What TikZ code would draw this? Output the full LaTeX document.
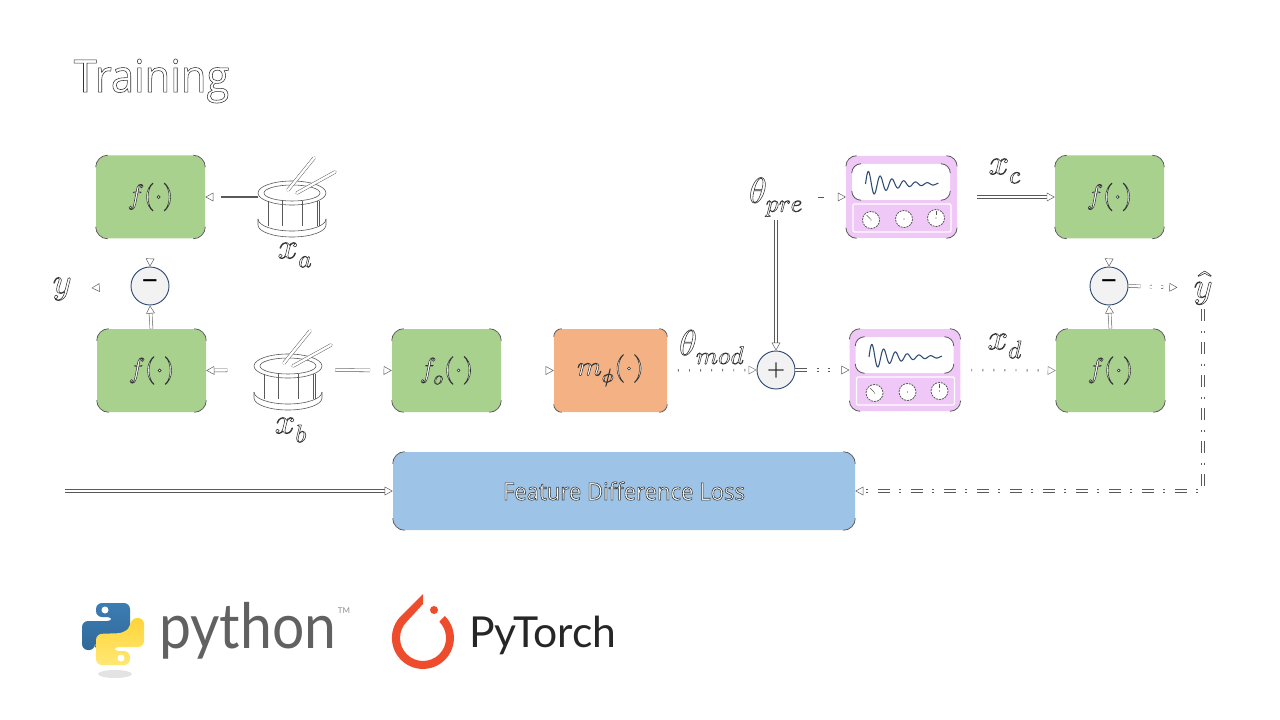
\documentclass[tikz,border=0pt]{standalone}
\usepackage{fontspec}
\usepackage{unicode-math}
\usetikzlibrary{positioning,arrows.meta,calc}
\newfontfamily\uifont[FakeStretch=0.92]{Open Sans}
\newfontfamily\logofont[FakeStretch=0.91]{Lato}
\newfontfamily\torchfont{Lato}
\definecolor{Leaf}{RGB}{169,209,142}
\definecolor{Peach}{RGB}{244,177,131}
\definecolor{Sky}{RGB}{157,195,230}
\definecolor{Lilac}{RGB}{240,200,248}
\definecolor{Navy}{RGB}{47,74,115}
\definecolor{Wire}{RGB}{89,89,89}
\definecolor{Mist}{RGB}{242,242,242}
\definecolor{PyBlue}{RGB}{60,125,180}
\definecolor{PyDark}{RGB}{48,105,152}
\definecolor{PyYellow}{RGB}{255,212,59}
\definecolor{PyLight}{RGB}{255,232,115}
\definecolor{TorchRed}{RGB}{238,76,44}
\newcommand{\hollow}[1]{\special{pdf:code 2 Tr 0.42 w 0.2 G 1 g}#1\special{pdf:code 0 Tr 0 g 0 G 0.4 w}}
\newcommand{\cornerarcs}[2]{%
  \draw[cornerline] ([yshift=-#2]#1.north west) arc[start angle=180,end angle=90,radius=#2];
  \draw[cornerline] ([xshift=-#2]#1.north east) arc[start angle=90,end angle=0,radius=#2];
  \draw[cornerline] ([yshift=#2]#1.south east) arc[start angle=0,end angle=-90,radius=#2];
  \draw[cornerline] ([xshift=#2]#1.south west) arc[start angle=-90,end angle=-180,radius=#2];
}
\tikzset{
  drum/.pic={
    \draw[drumline] (-34,26) -- (-34,32) arc[start angle=180,end angle=0,x radius=34,y radius=12] -- (34,26);
    \draw[drumline] (-34,26) arc[start angle=180,end angle=0,x radius=34,y radius=12];
    \foreach \lx in {-24,-10,10,25,27}
      \draw[drumline] (\lx,8) -- (\lx,33);
    \draw[drumline] (0,0) ellipse [x radius=34,y radius=12];
    \draw[drumline] (0,0) ellipse [x radius=28,y radius=8];
    \draw[stickline] (-4,-3) -- (22,-35);
    \draw[stickline] (5,0) -- (43,-21);
    \coordinate (-west) at (-34,4);
    \coordinate (-east) at (34,4);
  },
  synth/.pic={
    \node[synthbody] (-body) at (0,0) {};
    \node[synthpanel,fill=white] (-top) at (-0.5,-15) {};
    \node[synthpanel,minimum height=21pt,draw=white,line width=0.9pt,rounded corners=1pt] (-low) at (0.5,21) {};
    \draw[Navy,line width=0.8pt] plot[domain=0:1,samples=140,smooth] ({-36+73*\x},{-13-14*exp(-2.8*\x)*sin(2230*\x)});
    \foreach \kx/\ky in {-30.5/23,2.5/22,34.5/21} {
      \draw[knobline] (\kx,\ky) circle [radius=8.5];
      \fill[Wire] (\kx,\ky) circle [radius=0.6];
    }
    \draw[Wire,line width=0.4pt] (-35,18) -- (-31,22);
    \draw[Wire,line width=0.4pt] (34.5,14) -- (34.5,18);
  }
}
\begin{document}
\begin{tikzpicture}[
    x=0.75pt,y=-0.75pt,
    greenbox/.style={rectangle,fill=Leaf,rounded corners=9pt,minimum width=81.75pt,minimum height=62.25pt,inner sep=0pt},
    peachbox/.style={rectangle,fill=Peach,rounded corners=6pt,minimum width=84.75pt,minimum height=62.25pt,inner sep=0pt},
    lossbox/.style={rectangle,fill=Sky,rounded corners=9pt,minimum width=346.5pt,minimum height=58.5pt,inner sep=0pt},
    synthbody/.style={rectangle,fill=Lilac,rounded corners=8pt,minimum width=83pt,minimum height=61.5pt,inner sep=0pt},
    synthpanel/.style={rectangle,rounded corners=7pt,minimum width=73.5pt,minimum height=27pt,inner sep=0pt},
    opcircle/.style={circle,draw=Navy,fill=Mist,line width=0.7pt,minimum size=28.5pt,inner sep=0pt},
    mathlabel/.style={inner sep=0pt,font=\fontsize{27}{32}\selectfont},
    boxlabel/.style={font=\fontsize{21}{25}\selectfont},
    minuslabel/.style={font=\uifont\fontsize{23}{27}\selectfont},
    cornerline/.style={Wire,line width=0.6pt},
    drumline/.style={Wire,line width=0.45pt,fill=none},
    knobline/.style={Wire,fill=white,line width=0.6pt,dashed,dash pattern=on 1.5pt off 0.7pt},
    stickline/.style={Wire,line width=0.35pt,double=white,double distance=1.8pt,line cap=round},
    tiparrow/.style={-{Triangle[open,length=6pt,width=6.5pt,line width=0.35pt,fill=white]},Wire,line width=0.4pt},
    wire/.style={tiparrow,double=white,double distance=1.8pt},
    tiponly/.style={tiparrow,dash pattern=on 0pt off 200pt},
    dotline/.style={tiparrow,line width=1.8pt,dash pattern=on 0.7pt off 7.6pt,draw=Wire!80},
    dashdot/.style={tiparrow,double=white,double distance=1.8pt,dash pattern=on 9pt off 7.1pt on 1.5pt off 7.15pt}
]
\useasboundingbox (0,0) rectangle (1280,720);

\node[font=\uifont\fontsize{34}{40}\selectfont,inner sep=0pt] (title) at (151.5,81) {\hollow{Training}};

% Feature extractors
\node[greenbox] (fa) at (150.5,197) {};
\node[greenbox] (fb) at (151.5,370.5) {};
\node[greenbox] (fo) at (446.5,370.5) {};
\node[peachbox] (mphi) at (610.5,370.5) {};
\node[greenbox] (fc) at (1109.5,197) {};
\node[greenbox] (fd) at (1110.5,370.5) {};
\node[lossbox] (loss) at (624,491) {};
\foreach \n in {fa,fb,fo,fc,fd,loss} {\cornerarcs{\n}{9pt}}
\cornerarcs{mphi}{6pt}

\node[boxlabel] at (fa) {\hollow{$f(\cdot)$}};
\node[boxlabel] at (fb) {\hollow{$f(\cdot)$}};
\node[boxlabel] at (fo) {\hollow{$f_o(\cdot)$}};
\node[boxlabel] at (mphi) {\hollow{$m_\phi(\cdot)$}};
\node[boxlabel] at (fc) {\hollow{$f(\cdot)$}};
\node[boxlabel] at (fd) {\hollow{$f(\cdot)$}};
\node[font=\uifont\fontsize{18}{21}\selectfont] at (loss) {\hollow{Feature Difference Loss}};

% Drums
\pic (druma) at (292,193) {drum};
\pic (drumb) at (288,366) {drum};
\node[mathlabel] (xa) at (295,255) {\hollow{$x_a$}};
\node[mathlabel] (xb) at (291,430) {\hollow{$x_b$}};

% Synths
\pic (synthc) at (901.5,197) {synth};
\pic (synthd) at (905,370) {synth};
\foreach \n in {synthc-body,synthd-body} {\cornerarcs{\n}{8pt}}
\foreach \n in {synthc-top,synthd-top} {\cornerarcs{\n}{7pt}}

% Operators
\node[opcircle,minuslabel] (diffl) at (150,286) {−};
\node[opcircle,minuslabel] (diffr) at (1109,286) {−};
\node[opcircle,font=\fontsize{17}{20}\selectfont] (plus) at (776,370) {\hollow{$+$}};

% Labels
\node[mathlabel] (y) at (62,289) {\hollow{$y$}};
\node[mathlabel] (yhat) at (1203,288) {\hollow{$\hat{y}$}};
\node[mathlabel] (thetapre) at (776,197) {\hollow{$\theta_{pre}$}};
\node[mathlabel] (thetamod) at (712,347) {\hollow{$\theta_{mod}$}};
\node[mathlabel] (xc) at (1005,171) {\hollow{$x_c$}};
\node[mathlabel] (xd) at (1005,346) {\hollow{$x_d$}};

% Left branch
\draw[tiparrow,line width=1pt,dash pattern=on 28pt off 30pt] (druma-west) -- (fa.east);
\draw[tiponly] (fa.south) -- (diffl.north);
\draw[wire] (fb.north) -- (diffl.south);
\draw[tiponly,shorten >=15pt] (diffl.west) -- (y.east);
\draw[wire,shorten <=20pt] (drumb-west) -- (fb.east);

% Main branch
\draw[wire,shorten <=10pt,dash pattern=on 26pt off 30pt] (drumb-east) -- (fo.west);
\draw[tiponly] (fo.east) -- (mphi.west);
\draw[dotline,shorten <=8pt] (mphi.east) -- (plus.west);
\draw[wire,dash pattern=on 9pt off 7pt on 1.5pt off 7pt on 1.5pt off 40pt] (plus.east) -- (synthd-body.west);
\draw[dotline,shorten <=8pt] (synthd-body.east) -- (fd.west);

% Preset branch
\draw[wire,shorten <=2pt] (thetapre.south) -- (plus.north);
\draw[tiparrow,shorten <=11pt,dash pattern=on 4.5pt off 40pt] (thetapre.east) -- (synthc-body.west);
\draw[wire,shorten <=15pt] (synthc-body.east) -- (fc.west);
\draw[tiponly] (fc.south) -- (diffr.north);
\draw[wire] (fd.north) -- (diffr.south);
\draw[wire,dash pattern=on 9pt off 7pt on 1.5pt off 7pt on 1.5pt off 40pt,shorten >=12pt] (diffr.east) -- (yhat.west);

% Loss
\coordinate (lossin) at (65,491);
\draw[wire] (lossin) -- (loss.west);
\draw[dashdot,shorten <=3pt] (yhat.south) |- (loss.east);

% Python logo
\fill[gray!22] (115,674) ellipse [x radius=17,y radius=4];
\draw[draw=none,rounded corners=4.5pt,top color=PyBlue,bottom color=PyDark] (96,603) -- (130,603) -- (130,634) -- (102,635) -- (95,642) -- (95,650) -- (82,650) -- (82,621) -- (113,621) -- (113,617) -- (96,617) -- cycle;
\draw[draw=none,rounded corners=4.5pt,top color=PyYellow,bottom color=PyLight] (130,665) -- (96,665) -- (96,634) -- (124,633) -- (131,626) -- (131,618) -- (144,618) -- (144,647) -- (113,647) -- (113,651) -- (130,651) -- cycle;
\fill[white] (105,610) circle [radius=3.5];
\fill[white] (121,658) circle [radius=3.5];
\node[font=\logofont\fontsize{47}{54}\selectfont,text=black!62,anchor=base west,inner sep=0pt] (python) at (159,648) {python};
\node[font=\torchfont\fontsize{6}{7}\selectfont,text=black!45,inner sep=0pt] (tm) at (344,611) {TM};

% PyTorch logo
\fill[TorchRed] (423,594) -- (401,616) arc[start angle=135,end angle=405,radius=23.25pt] -- (439.3,621.7) arc[start angle=45,end angle=-225,radius=17.25pt] -- (423,604) -- cycle;
\fill[TorchRed] (434,610) circle [radius=4];
\node[font=\torchfont\fontsize{32}{38}\selectfont,text=black!85,anchor=base west,inner sep=0pt] (pytorch) at (469,647) {PyTorch};

\end{tikzpicture}
\end{document}
